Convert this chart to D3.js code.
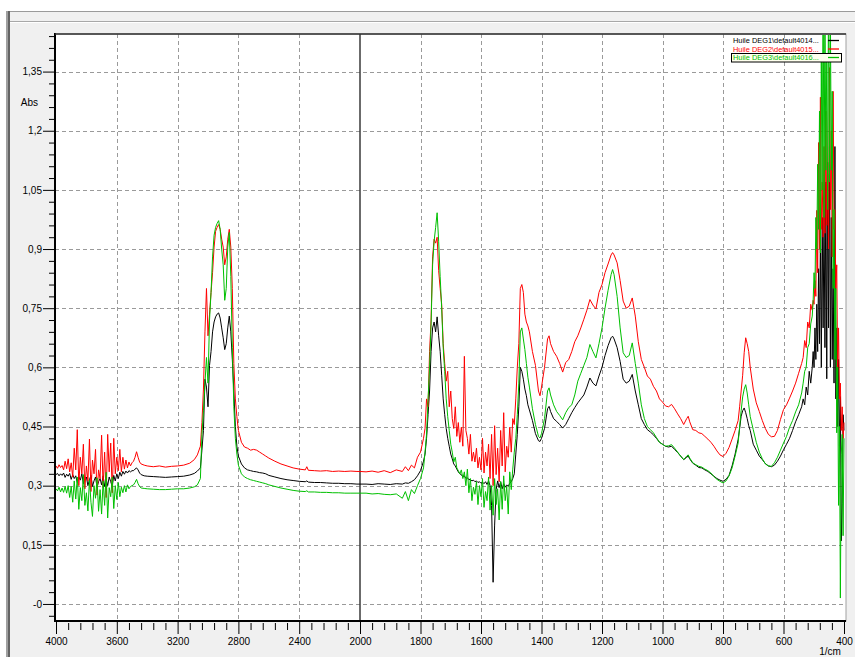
<!DOCTYPE html>
<html><head><meta charset="utf-8">
<script src="https://cdn.jsdelivr.net/npm/d3@7"></script>
<style>
body{margin:0;background:#fff;}
svg{display:block;font-family:"Liberation Sans",Arial,sans-serif;}
</style>
</head><body>
<svg id="chart" width="855" height="657"></svg>
<script>
// ---------- DATA ----------
const wavenumbers = [
4000,3990,3980,3970,3960,3950,3940,3930,3920,3910,3900,3890,3880,3870,3860,3850,3840,3830,3820,3810,3800,3790,3780,3770,3760,3750,3740,3730,3720,3710,3700,3690,3680,3670,3660,3650,3640,3630,3620,3610,3600,3590,3580,3570,3560,3550,3540,3530,3520,3510,3500,
3490,3480,3470,3460,3450,3440,3420,3400,3360,3320,3280,3240,3200,3160,3120,3090,3070,3050,
3040,3030,3020,3010,3000,2990,2980,2970,2960,2950,2940,2930,2920,2910,2900,2890,2880,2870,2860,2850,2840,2830,2820,2810,2800,2780,2760,2740,2720,2700,2680,2660,2640,2620,2600,
2560,2520,2480,2440,2400,2360,2350,2340,2300,2260,2220,2180,2140,2100,2060,2020,2000,
1980,1960,1940,1920,1900,1880,1860,1850,1840,1830,1820,1810,1800,1790,1785,1780,1775,1770,1765,1760,1755,1750,1745,1740,1735,1730,1725,1720,1715,1710,1705,1700,1695,1690,1685,1680,1675,1670,1665,1660,1655,1650,1645,1640,1635,1630,1625,1620,1615,1610,1605,1600,1595,1590,1585,1580,1575,1570,1565,1560,1555,1550,1545,1540,1535,1530,1525,1520,1515,1510,1505,1500,1495,1490,1485,1480,
1475,1470,1465,1460,1455,1450,1445,1440,1430,1420,1410,1405,1400,1390,1380,1375,1370,1360,1350,1340,1330,1320,1310,1300,1290,1280,1270,1260,1250,1240,1230,1220,1210,1200,1190,1180,1170,1165,1160,1150,1140,1130,1120,1110,1100,1090,1080,1070,1060,1050,1040,1030,1020,1010,1000,990,980,970,960,950,940,930,920,915,910,900,890,880,870,860,850,840,830,820,810,800,790,780,770,760,750,745,740,735,730,725,720,715,710,700,690,680,670,660,650,640,630,620,610,600,590,580,570,560,550,540,535,530,525,520,515,510,
505,502,499,496,493,490,487,484,481,478,475,472,469,466,463,460,457,454,451,448,445,442,439,436,433,430,427,424,421,418,415,412,409,406,403,400
];

// Huile DEG1 (black)
const deg1 = [
0.328,0.331,0.325,0.330,0.326,0.332,0.321,0.329,0.324,0.331,0.316,0.328,0.318,0.325,0.308,0.323,0.314,0.330,0.305,0.318,0.322,0.300,0.315,0.326,0.298,0.312,0.322,0.296,0.310,0.318,0.302,0.325,0.298,0.316,0.300,0.322,0.310,0.298,0.326,0.312,0.330,0.318,0.334,0.324,0.336,0.329,0.337,0.332,0.338,0.335,0.338,
0.338,0.342,0.345,0.340,0.332,0.328,0.325,0.324,0.323,0.322,0.321,0.322,0.323,0.324,0.327,0.331,0.337,0.345,
0.390,0.440,0.570,0.550,0.500,0.605,0.640,0.690,0.715,0.728,0.735,0.738,0.725,0.700,0.675,0.645,0.660,0.700,0.730,0.690,0.620,0.540,0.450,0.400,0.375,0.355,0.345,0.340,0.338,0.336,0.335,0.333,0.332,0.330,0.326,
0.322,0.318,0.315,0.313,0.311,0.310,0.312,0.309,0.308,0.308,0.307,0.306,0.306,0.305,0.305,0.304,0.304,
0.304,0.303,0.305,0.304,0.303,0.305,0.304,0.307,0.306,0.310,0.315,0.325,0.338,0.362,0.380,0.420,0.480,0.540,0.640,0.700,0.715,0.690,0.728,0.680,0.640,0.580,0.520,0.480,0.445,0.420,0.400,0.380,0.368,0.355,0.350,0.342,0.335,0.330,0.328,0.322,0.325,0.318,0.320,0.315,0.316,0.312,0.314,0.310,0.312,0.308,0.310,0.306,0.309,0.305,0.310,0.303,0.312,0.300,0.250,0.055,0.200,0.290,0.312,0.295,0.310,0.292,0.305,0.296,0.302,0.298,0.306,0.310,0.318,0.330,0.380,0.430,
0.500,0.600,0.590,0.570,0.545,0.528,0.505,0.492,0.465,0.432,0.414,0.412,0.420,0.445,0.495,0.501,0.488,0.470,0.463,0.455,0.446,0.455,0.470,0.485,0.498,0.510,0.520,0.530,0.550,0.573,0.560,0.553,0.578,0.600,0.630,0.655,0.675,0.679,0.672,0.650,0.615,0.570,0.560,0.565,0.582,0.540,0.505,0.470,0.455,0.442,0.436,0.429,0.420,0.410,0.405,0.400,0.398,0.400,0.392,0.384,0.375,0.366,0.372,0.375,0.368,0.357,0.352,0.346,0.345,0.340,0.336,0.330,0.324,0.318,0.314,0.311,0.316,0.326,0.350,0.380,0.417,0.445,0.476,0.490,0.497,0.485,0.470,0.452,0.440,0.405,0.390,0.375,0.366,0.356,0.350,0.348,0.352,0.362,0.375,0.391,0.405,0.420,0.440,0.462,0.480,0.500,0.520,0.505,0.550,0.530,0.590,0.560,
0.600,0.640,0.600,0.700,0.620,0.760,0.640,0.850,0.660,0.930,0.600,0.980,0.700,1.000,0.650,1.070,0.571,1.120,0.700,1.160,0.600,0.980,0.620,0.850,0.560,1.160,0.520,0.700,0.450,0.620,0.400,0.526,0.160,0.254,0.480,0.440
];

// Huile DEG2 (red)
const deg2 = [
0.350,0.344,0.353,0.346,0.351,0.340,0.362,0.343,0.368,0.335,0.358,0.322,0.395,0.340,0.442,0.300,0.372,0.330,0.405,0.292,0.350,0.312,0.418,0.285,0.365,0.330,0.392,0.276,0.340,0.318,0.428,0.295,0.385,0.270,0.430,0.335,0.408,0.282,0.420,0.330,0.372,0.338,0.392,0.335,0.372,0.342,0.365,0.345,0.360,0.350,0.358,
0.362,0.372,0.386,0.372,0.360,0.355,0.352,0.350,0.348,0.350,0.347,0.349,0.350,0.352,0.357,0.366,0.378,0.400,
0.460,0.545,0.690,0.800,0.680,0.735,0.790,0.840,0.905,0.945,0.955,0.962,0.950,0.925,0.905,0.860,0.880,0.925,0.950,0.905,0.800,0.610,0.520,0.475,0.440,0.410,0.398,0.395,0.390,0.392,0.390,0.385,0.380,0.375,0.370,
0.362,0.355,0.350,0.345,0.342,0.340,0.348,0.339,0.338,0.337,0.338,0.336,0.337,0.336,0.337,0.336,0.336,
0.335,0.337,0.334,0.338,0.333,0.340,0.336,0.348,0.338,0.352,0.345,0.372,0.385,0.420,0.445,0.520,0.500,0.640,0.720,0.880,0.925,0.915,0.930,0.845,0.800,0.760,0.660,0.610,0.565,0.590,0.500,0.540,0.470,0.445,0.500,0.425,0.460,0.410,0.448,0.400,0.628,0.440,0.420,0.380,0.430,0.362,0.385,0.360,0.395,0.345,0.372,0.340,0.420,0.332,0.385,0.350,0.405,0.318,0.430,0.300,0.452,0.328,0.395,0.310,0.440,0.350,0.485,0.335,0.400,0.372,0.448,0.385,0.470,0.455,0.520,0.600,
0.660,0.800,0.810,0.790,0.735,0.715,0.705,0.690,0.640,0.605,0.540,0.528,0.550,0.600,0.672,0.680,0.660,0.640,0.628,0.610,0.588,0.612,0.620,0.640,0.665,0.680,0.700,0.722,0.745,0.772,0.758,0.748,0.790,0.810,0.840,0.862,0.885,0.891,0.885,0.865,0.820,0.768,0.750,0.755,0.776,0.730,0.665,0.620,0.600,0.578,0.570,0.552,0.540,0.520,0.512,0.502,0.500,0.506,0.495,0.482,0.470,0.455,0.470,0.476,0.462,0.442,0.440,0.434,0.432,0.425,0.418,0.410,0.400,0.388,0.378,0.374,0.382,0.397,0.418,0.440,0.465,0.500,0.540,0.580,0.637,0.675,0.660,0.640,0.600,0.545,0.510,0.488,0.465,0.445,0.430,0.424,0.425,0.440,0.468,0.493,0.505,0.522,0.540,0.560,0.585,0.610,0.625,0.668,0.650,0.715,0.700,0.760,
0.745,0.770,0.760,0.820,0.780,0.998,0.840,1.170,0.900,1.285,0.950,1.070,0.930,1.160,0.940,1.250,0.960,1.090,0.900,1.360,1.000,1.200,0.880,1.300,0.950,1.000,0.800,0.860,0.600,0.700,0.520,0.560,0.440,0.500,0.420,0.460
];

// Huile DEG3 (green)
const deg3 = [
0.292,0.287,0.296,0.284,0.294,0.283,0.298,0.281,0.300,0.270,0.298,0.258,0.312,0.266,0.322,0.240,0.295,0.262,0.328,0.250,0.282,0.236,0.315,0.258,0.222,0.300,0.268,0.320,0.235,0.290,0.228,0.312,0.250,0.334,0.218,0.295,0.272,0.322,0.242,0.300,0.265,0.308,0.272,0.296,0.282,0.300,0.284,0.302,0.292,0.298,0.300,
0.302,0.308,0.316,0.305,0.298,0.294,0.293,0.292,0.291,0.290,0.290,0.291,0.292,0.292,0.294,0.297,0.302,0.318,
0.430,0.490,0.560,0.625,0.560,0.720,0.790,0.880,0.935,0.955,0.965,0.972,0.950,0.900,0.860,0.770,0.800,0.905,0.942,0.830,0.650,0.500,0.420,0.380,0.352,0.330,0.322,0.318,0.315,0.313,0.311,0.309,0.307,0.305,0.302,
0.298,0.294,0.291,0.288,0.286,0.285,0.287,0.284,0.284,0.283,0.283,0.282,0.282,0.281,0.281,0.281,0.281,
0.281,0.279,0.280,0.278,0.277,0.279,0.268,0.285,0.262,0.290,0.280,0.300,0.318,0.345,0.385,0.430,0.520,0.600,0.710,0.860,0.920,0.955,0.992,0.920,0.830,0.750,0.650,0.590,0.520,0.475,0.440,0.405,0.385,0.360,0.372,0.345,0.338,0.330,0.340,0.318,0.335,0.300,0.342,0.282,0.318,0.262,0.296,0.278,0.310,0.252,0.300,0.272,0.318,0.245,0.285,0.262,0.322,0.238,0.300,0.225,0.318,0.252,0.292,0.213,0.310,0.240,0.325,0.262,0.298,0.228,0.335,0.290,0.342,0.385,0.420,0.480,
0.560,0.690,0.700,0.672,0.645,0.610,0.575,0.550,0.495,0.455,0.425,0.421,0.432,0.470,0.540,0.548,0.530,0.505,0.488,0.478,0.467,0.485,0.498,0.505,0.530,0.565,0.585,0.605,0.625,0.658,0.640,0.624,0.660,0.700,0.750,0.795,0.835,0.848,0.835,0.780,0.700,0.637,0.625,0.630,0.662,0.610,0.560,0.505,0.470,0.450,0.442,0.434,0.422,0.410,0.405,0.400,0.401,0.404,0.395,0.385,0.375,0.366,0.375,0.378,0.370,0.358,0.353,0.349,0.347,0.342,0.338,0.332,0.323,0.316,0.311,0.307,0.312,0.325,0.345,0.375,0.408,0.450,0.490,0.525,0.545,0.556,0.535,0.505,0.475,0.442,0.410,0.385,0.368,0.355,0.350,0.349,0.358,0.372,0.390,0.408,0.425,0.448,0.465,0.487,0.505,0.535,0.560,0.590,0.600,0.650,0.660,0.710,
0.730,0.770,0.840,0.800,0.980,0.900,1.115,0.950,1.250,0.890,1.380,1.050,1.600,0.980,1.550,1.100,1.390,1.000,1.600,1.070,1.500,1.100,1.300,0.800,1.000,0.620,0.800,0.434,0.600,0.250,0.450,0.015,0.380,0.430,0.173,0.420
];

const seriesNames  = ["Huile DEG1\\default4014...", "Huile DEG2\\default4015...", "Huile DEG3\\default4016..."];
const seriesColors = ["#000000", "#ff0000", "#00c000"];
const xTickValues  = [4000,3600,3200,2800,2400,2000,1800,1600,1400,1200,1000,800,600,400];
const yTickValues  = [0,0.15,0.3,0.45,0.6,0.75,0.9,1.05,1.2,1.35];
const yTickLabels  = ["-0","0,15","0,3","0,45","0,6","0,75","0,9","1,05","1,2","1,35"];
const yAxisTitle = "Abs";
const xAxisTitle = "1/cm";

// ---------- LAYOUT ----------
const svg = d3.select("#chart");
const P = {left:55, right:846, top:34, bottom:621};

const x = d3.scaleLinear().domain([4000, 2000, 400]).range([56, 360, 844]);
const y = d3.scaleLinear().domain([-0.0432, 1.4453]).range([P.bottom, P.top]);

// window frame
svg.append("rect").attr("x",0).attr("y",0).attr("width",855).attr("height",657).attr("fill","#ffffff");
svg.append("rect").attr("x",6).attr("y",11).attr("width",849).attr("height",646).attr("fill","#f0f0f0");
svg.append("line").attr("x1",6).attr("x2",855).attr("y1",11.5).attr("y2",11.5).attr("stroke","#9a9a9a");
svg.append("line").attr("x1",10).attr("x2",855).attr("y1",21.5).attr("y2",21.5).attr("stroke","#a8a8a8");
svg.append("line").attr("x1",10).attr("x2",855).attr("y1",22.5).attr("y2",22.5).attr("stroke","#ffffff");
svg.append("rect").attr("x",6).attr("y",11).attr("width",2).attr("height",646).attr("fill","#a0a0a0");
svg.append("rect").attr("x",8).attr("y",11).attr("width",2).attr("height",646).attr("fill","#646464");

// plot area
svg.append("rect").attr("x",P.left).attr("y",P.top).attr("width",P.right-P.left).attr("height",P.bottom-P.top)
  .attr("fill","#ffffff").attr("stroke","#a0a0a0");

// grid
const grid = svg.append("g");
grid.selectAll("line.h").data(yTickValues).join("line").attr("class","h")
  .attr("x1",P.left).attr("x2",P.right).attr("y1",d=>Math.round(y(d))+0.5).attr("y2",d=>Math.round(y(d))+0.5)
  .attr("stroke","#9a9a9a").attr("stroke-dasharray","4,3");
grid.selectAll("line.v").data(xTickValues.filter(d=>d!==4000 && d!==400 && d!==2000)).join("line").attr("class","v")
  .attr("x1",d=>Math.round(x(d))+0.5).attr("x2",d=>Math.round(x(d))+0.5).attr("y1",P.top).attr("y2",P.bottom)
  .attr("stroke","#9a9a9a").attr("stroke-dasharray","4,3");
grid.append("line").attr("x1",x(2000)).attr("x2",x(2000)).attr("y1",P.top).attr("y2",P.bottom)
  .attr("stroke","#3a3a3a").attr("stroke-width",1.5);

// clip
svg.append("clipPath").attr("id","clip").append("rect")
  .attr("x",P.left+1).attr("y",P.top+1).attr("width",P.right-P.left-1).attr("height",P.bottom-P.top-1);

const series = [deg1, deg2, deg3];
const line = vals => d3.line().x((d,i)=>x(wavenumbers[i])).y(d=>y(d))(vals);
const lines = svg.append("g").attr("clip-path","url(#clip)");
series.forEach((vals,k)=>{
  lines.append("path").attr("d", line(vals)).attr("fill","none")
    .attr("stroke", seriesColors[k]).attr("stroke-width",1).attr("stroke-linejoin","round");
});

// axes
const fontSize = 10;
const xMinor = d3.range(4000, 2000, -80).concat(d3.range(2000, 399, -40)).filter(v=>!xTickValues.includes(v));
const gxMinor = svg.append("g").attr("transform",`translate(0,${P.bottom})`)
  .call(d3.axisBottom(x).tickValues(xMinor).tickSize(9).tickFormat(""));
gxMinor.select(".domain").remove();
gxMinor.selectAll(".tick line").attr("y1",2).attr("stroke","#000");

const gx = svg.append("g").attr("transform",`translate(0,${P.bottom})`)
  .call(d3.axisBottom(x).tickValues(xTickValues).tickSize(13).tickPadding(4).tickFormat(d=>String(d)));
gx.select(".domain").remove();
gx.selectAll(".tick line").attr("stroke","#000");
gx.selectAll("text").attr("font-size",fontSize).attr("font-family","Liberation Sans, Arial, sans-serif").attr("fill","#000");

const yMinor = d3.range(-1, 49).map(i=>+(i*0.03).toFixed(2)).filter(v=>Math.abs(v/0.15-Math.round(v/0.15))>1e-6 && v<=1.44);
const gyMinor = svg.append("g").attr("transform",`translate(${P.left},0)`)
  .call(d3.axisLeft(y).tickValues(yMinor).tickSize(6).tickFormat(""));
gyMinor.select(".domain").remove();
gyMinor.selectAll(".tick line").attr("stroke","#000");

const gy = svg.append("g").attr("transform",`translate(${P.left},0)`)
  .call(d3.axisLeft(y).tickValues(yTickValues).tickSize(12).tickPadding(1).tickFormat((d,i)=>yTickLabels[i]));
gy.select(".domain").remove();
gy.selectAll(".tick line").attr("stroke","#000");
gy.selectAll("text").attr("font-size",fontSize).attr("font-family","Liberation Sans, Arial, sans-serif").attr("fill","#000");

// axis lines
svg.append("line").attr("x1",P.left).attr("x2",P.left).attr("y1",P.top-1).attr("y2",P.bottom+1).attr("stroke","#000").attr("stroke-width",2);
svg.append("line").attr("x1",P.left-1).attr("x2",P.right).attr("y1",P.bottom).attr("y2",P.bottom).attr("stroke","#000").attr("stroke-width",2);
svg.append("line").attr("x1",P.left).attr("x2",P.right).attr("y1",P.top).attr("y2",P.top).attr("stroke","#303030").attr("stroke-width",1.5);

svg.append("text").attr("x",38).attr("y",106).attr("text-anchor","end").attr("font-size",fontSize).attr("fill","#000").text(yAxisTitle);
svg.append("text").attr("x",830).attr("y",655).attr("text-anchor","middle").attr("font-size",fontSize).attr("fill","#000").text(xAxisTitle);

// legend
const leg = svg.append("g");
const rowY = [40.5, 49, 57.5];
leg.append("rect").attr("x",731.5).attr("y",53.5).attr("width",110).attr("height",8.5)
  .attr("fill","#ffffee").attr("stroke","#000").attr("stroke-width",1);
seriesNames.forEach((name,k)=>{
  leg.append("text").attr("x",733).attr("y",rowY[k]+2.6).attr("font-size",7.4).attr("fill",seriesColors[k]).text(name);
  leg.append("line").attr("x1",828).attr("x2",839).attr("y1",rowY[k]).attr("y2",rowY[k])
    .attr("stroke",seriesColors[k]).attr("stroke-width",1.3);
});
</script>
</body></html>
